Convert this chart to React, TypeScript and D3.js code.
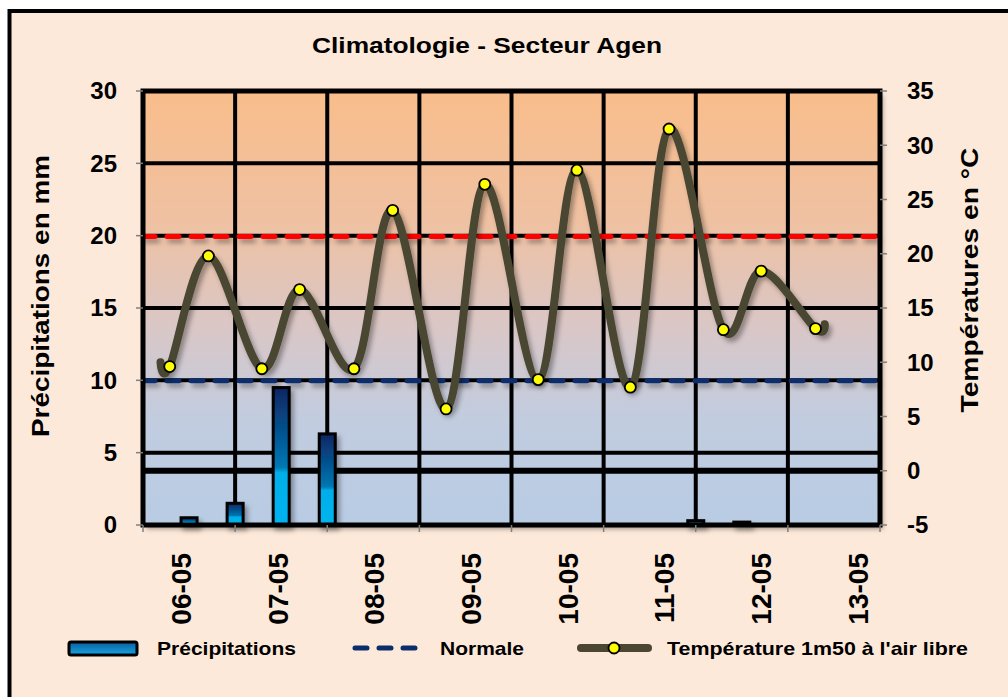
import React from 'react';
import * as d3 from 'd3';

// categories (one per day)
const dayLabels = ['06-05', '07-05', '08-05', '09-05', '10-05', '11-05', '12-05', '13-05'];

// temperature series: time in days from the start of 06-05
const tempTimes = [0.19, 0.29, 0.71, 1.29, 1.7, 2.29, 2.71, 3.29, 3.71, 4.29, 4.71, 5.29, 5.71, 6.3, 6.71, 7.3, 7.4];
const tempValues = [10.0, 9.6, 19.8, 9.4, 16.7, 9.4, 24.0, 5.7, 26.4, 8.4, 27.7, 7.7, 31.5, 13.0, 18.4, 13.1, 13.5];
const tempMarked = [false, true, true, true, true, true, true, true, true, true, true, true, true, true, true, true, false];

// precipitation per half day
const precipTimes = [0.5, 1, 1.5, 2, 2.5, 3, 3.5, 4, 4.5, 5, 5.5, 6, 6.5, 7, 7.5];
const precipValues = [0.5, 1.5, 9.5, 6.3, 0, 0, 0, 0, 0, 0, 0, 0.3, 0.2, 0, 0];

// normals (°C)
const normalMax = 21.6;
const normalMin = 8.3;
const frostLine = 0;

const precipTicks = [0, 5, 10, 15, 20, 25, 30];
const tempTicks = [-5, 0, 5, 10, 15, 20, 25, 30, 35];

const W = 1008;
const H = 697;
const FONT = "'Liberation Sans', Arial, sans-serif";
const LINE_COLOR = '#4a4631';

export default function App() {
  const left = 143, right = 880, top = 91, bottom = 525;

  const x = d3.scaleLinear().domain([0, dayLabels.length]).range([left, right]);
  const yP = d3.scaleLinear().domain([0, 30]).range([bottom, top]);
  const yT = d3.scaleLinear().domain([-5, 35]).range([bottom, top]);
  const xLab = d3.scalePoint<string>().domain(dayLabels).range([181, 858]);

  const tempLine = d3.line<number>()
    .x((_, i) => x(tempTimes[i]))
    .y(d => yT(d))
    .curve(d3.curveCardinal.tension(0));

  const barW = 16;
  const dayBounds = d3.range(1, dayLabels.length);

  return (
    <svg width={W} height={H} style={{ position: 'absolute', left: 0, top: 0 }} fontFamily={FONT}>
      <defs>
        <linearGradient id="plotBg" x1="0" y1="0" x2="0" y2="1">
          <stop offset="0" stopColor="#f9bd8b" />
          <stop offset="0.3" stopColor="#efc1a2" />
          <stop offset="0.55" stopColor="#d9c7c7" />
          <stop offset="0.75" stopColor="#c2ccdf" />
          <stop offset="1" stopColor="#b8cce4" />
        </linearGradient>
        <linearGradient id="barFill" x1="0" y1="0" x2="0" y2="1">
          <stop offset="0" stopColor="#0b2562" />
          <stop offset="0.58" stopColor="#0078b4" />
          <stop offset="0.62" stopColor="#00aee9" />
          <stop offset="1" stopColor="#00b4f0" />
        </linearGradient>
        <linearGradient id="legBar" x1="0" y1="0" x2="0" y2="1">
          <stop offset="0" stopColor="#0d5e9c" />
          <stop offset="1" stopColor="#14a6e4" />
        </linearGradient>
        <filter id="sh" filterUnits="userSpaceOnUse" x="0" y="0" width={W} height={H}>
          <feDropShadow dx="3" dy="4" stdDeviation="2.5" floodColor="#000" floodOpacity="0.35" />
        </filter>
      </defs>

      {/* chart area */}
      <rect x={0} y={0} width={W} height={H} fill="#fff" />
      <rect x={9.5} y={11} width={W + 20} height={H + 20} fill="#fde9d9" stroke="#000" strokeWidth={4} />

      <text x={487} y={53} textAnchor="middle" fontSize={22} fontWeight="bold" textLength={350} lengthAdjust="spacingAndGlyphs">
        Climatologie - Secteur Agen
      </text>

      {/* plot background */}
      <rect x={left} y={top} width={right - left} height={bottom - top} fill="url(#plotBg)" filter="url(#sh)" />

      {/* grid */}
      {precipTicks.filter(v => v > 0 && v < 30).map(v => (
        <line key={'h' + v} x1={left} x2={right} y1={yP(v)} y2={yP(v)} stroke="#000" strokeWidth={4} />
      ))}
      {dayBounds.map(d => (
        <line key={'v' + d} x1={x(d)} x2={x(d)} y1={top} y2={bottom} stroke="#000" strokeWidth={4} />
      ))}
      <line x1={left} x2={right} y1={yT(frostLine)} y2={yT(frostLine)} stroke="#000" strokeWidth={6} />

      {/* precipitation bars */}
      <g filter="url(#sh)">
        {precipValues.map((v, i) => (
          <rect key={'b' + i} x={x(precipTimes[i]) - barW / 2} y={yP(v)} width={barW} height={yP(0) - yP(v)}
            fill="url(#barFill)" stroke="#000" strokeWidth={3} />
        ))}
      </g>

      {/* normals */}
      <g filter="url(#sh)">
        <line x1={left} x2={right} y1={yT(normalMax)} y2={yT(normalMax)} stroke="#ff0000" strokeWidth={5}
          strokeDasharray="12 12" strokeLinecap="round" />
        <line x1={left} x2={right} y1={yT(normalMin)} y2={yT(normalMin)} stroke="#0c2d6b" strokeWidth={5}
          strokeDasharray="12 12" strokeLinecap="round" />
      </g>

      {/* temperature */}
      <path d={tempLine(tempValues) || ''} fill="none" stroke={LINE_COLOR} strokeWidth={8} strokeLinecap="round"
        strokeLinejoin="round" filter="url(#sh)" />
      {tempValues.map((v, i) => tempMarked[i] ? (
        <circle key={'m' + i} cx={x(tempTimes[i])} cy={yT(v)} r={5.5} fill="#ffff00" stroke="#000" strokeWidth={1.8} />
      ) : null)}

      {/* plot frame */}
      <rect x={left} y={top} width={right - left} height={bottom - top} fill="none" stroke="#000" strokeWidth={5} />

      {/* left axis */}
      {precipTicks.map(v => (
        <g key={'lt' + v}>
          <line x1={left - 7} x2={left} y1={yP(v)} y2={yP(v)} stroke="#7f7f7f" strokeWidth={1.5} />
          <text x={117} y={yP(v)} dy="0.35em" textAnchor="end" fontSize={24} fontWeight="bold">{v}</text>
        </g>
      ))}
      <text transform={`translate(41,296) rotate(-90)`} dy="0.35em" textAnchor="middle" fontSize={23} fontWeight="bold"
        textLength={282} lengthAdjust="spacingAndGlyphs">Précipitations en mm</text>

      {/* right axis */}
      {tempTicks.map(v => (
        <g key={'rt' + v}>
          <line x1={right} x2={right + 7} y1={yT(v)} y2={yT(v)} stroke="#7f7f7f" strokeWidth={1.5} />
          <text x={907} y={yT(v)} dy="0.35em" textAnchor="start" fontSize={24} fontWeight="bold">{v}</text>
        </g>
      ))}
      <text transform={`translate(970,280) rotate(-90)`} dy="0.35em" textAnchor="middle" fontSize={23} fontWeight="bold"
        textLength={265} lengthAdjust="spacingAndGlyphs">Températures en °C</text>

      {/* x axis */}
      {d3.range(0, dayLabels.length + 1).map(d => (
        <line key={'xt' + d} x1={x(d)} x2={x(d)} y1={bottom} y2={bottom + 7} stroke="#7f7f7f" strokeWidth={1.5} />
      ))}
      {dayLabels.map(d => (
        <text key={'xl' + d} transform={`translate(${xLab(d)},553) rotate(-90)`} dy="0.35em" textAnchor="end"
          fontSize={28} fontWeight="bold">{d}</text>
      ))}

      {/* legend */}
      <g fontSize={19} fontWeight="bold">
        <rect x={69} y={642} width={68} height={13} rx={2} fill="url(#legBar)" stroke="#000" strokeWidth={3} />
        <text x={157} y={648} dy="0.35em" textLength={139} lengthAdjust="spacingAndGlyphs">Précipitations</text>
        <line x1={355} x2={415} y1={648} y2={648} stroke="#0c2d6b" strokeWidth={5} strokeDasharray="12 12"
          strokeLinecap="round" />
        <text x={440} y={648} dy="0.35em" textLength={84} lengthAdjust="spacingAndGlyphs">Normale</text>
        <line x1={581} x2={648} y1={648} y2={648} stroke={LINE_COLOR} strokeWidth={8} strokeLinecap="round" />
        <circle cx={614} cy={648} r={5.5} fill="#ffff00" stroke="#000" strokeWidth={1.8} />
        <text x={667} y={648} dy="0.35em" textLength={301} lengthAdjust="spacingAndGlyphs">Température 1m50 à l'air libre</text>
      </g>
    </svg>
  );
}
